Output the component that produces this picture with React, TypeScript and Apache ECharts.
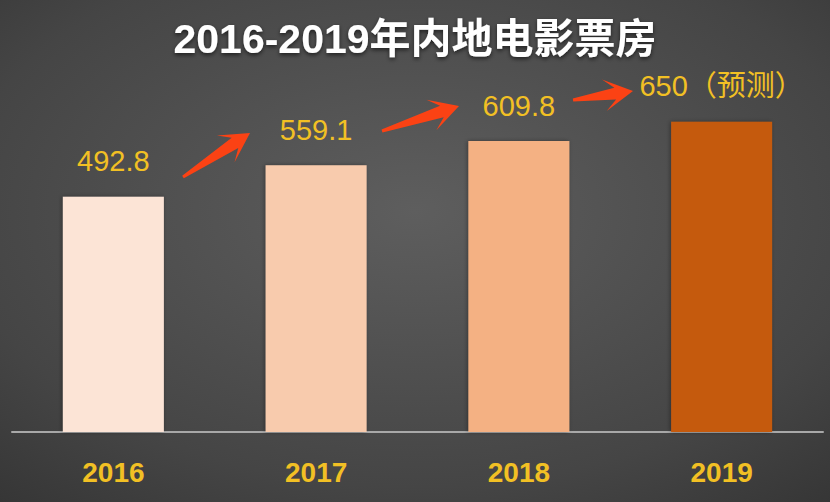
import React, { useEffect, useRef } from "react";
import * as echarts from "echarts";

const categories = ["2016", "2017", "2018", "2019"];
const values = [492.8, 559.1, 609.8, 650];
const valueLabels = ["492.8", "559.1", "609.8", "650（预测）"];
const barColors = ["#fce4d6", "#f8cbad", "#f4b183", "#c55a11"];
const titleText = "2016-2019年内地电影票房";

// decorative arrows (tail -> tip), in page pixels
const arrows: [number, number, number, number][] = [
  [183, 177, 250, 133],
  [382, 131, 459, 106],
  [573, 100, 633, 91],
];

function arrowPoints(x1: number, y1: number, x2: number, y2: number) {
  const dx = x2 - x1;
  const dy = y2 - y1;
  const len = Math.sqrt(dx * dx + dy * dy);
  const ux = dx / len;
  const uy = dy / len;
  const nx = -uy;
  const ny = ux;
  const at = (t: number, w: number) => [x1 + ux * t + nx * w, y1 + uy * t + ny * w];
  const head = Math.min(29, len * 0.48);
  return [
    at(0, 1.5),
    at(len - head * 0.62, 6),
    at(len - head, 16),
    at(len, 0),
    at(len - head, -16),
    at(len - head * 0.62, -6),
    at(0, -1.5),
  ];
}

export default function App() {
  const ref = useRef<HTMLDivElement>(null);
  useEffect(() => {
    if (!ref.current) return;
    const chart = echarts.init(ref.current, null, { renderer: "svg" });
    chart.setOption({
      animation: false,
      backgroundColor: {
        type: "radial",
        x: 0.5,
        y: 0.42,
        r: 1.0,
        colorStops: [
          { offset: 0, color: "#5e5e5e" },
          { offset: 0.55, color: "#454545" },
          { offset: 1, color: "#262626" },
        ],
      },
      title: {
        text: titleText,
        left: "center",
        top: 13,
        textStyle: {
          color: "#ffffff",
          fontSize: 41,
          fontWeight: "bold",
          fontFamily: '"Liberation Sans", "Noto Sans CJK SC", sans-serif',
          textShadowColor: "rgba(0,0,0,0.6)",
          textShadowBlur: 4,
          textShadowOffsetY: 2,
        },
      },
      grid: { left: 12, right: 7, top: 98, bottom: 70 },
      xAxis: {
        type: "category",
        data: categories,
        axisLine: { show: true, lineStyle: { color: "#a8a8a8", width: 2 } },
        axisTick: { show: false },
        axisLabel: {
          color: "#f2c024",
          fontSize: 28,
          fontWeight: "bold",
          fontFamily: '"Liberation Sans", sans-serif',
          margin: 26,
        },
      },
      yAxis: {
        type: "value",
        min: 0,
        max: 700,
        show: false,
        splitLine: { show: false },
      },
      series: [
        {
          type: "bar",
          barWidth: 101,
          data: values.map((v, i) => ({
            value: v,
            itemStyle: { color: barColors[i] },
            label: { formatter: valueLabels[i] },
          })),
          itemStyle: {
            shadowColor: "rgba(0,0,0,0.35)",
            shadowBlur: 4,
            shadowOffsetX: -1,
          },
          label: {
            show: true,
            position: "top",
            distance: 21,
            color: "#f2c024",
            fontSize: 29,
            fontFamily: '"Liberation Sans", "Noto Sans CJK SC", sans-serif',
          },
        },
      ],
      graphic: arrows.map((a) => ({
        type: "polygon",
        shape: { points: arrowPoints(a[0], a[1], a[2], a[3]) },
        style: { fill: "#fb4214" },
        z: 10,
      })),
    });
    return () => chart.dispose();
  }, []);
  return <div ref={ref} style={{ width: 830, height: 502, position: "absolute", left: 0, top: 0 }} />;
}
